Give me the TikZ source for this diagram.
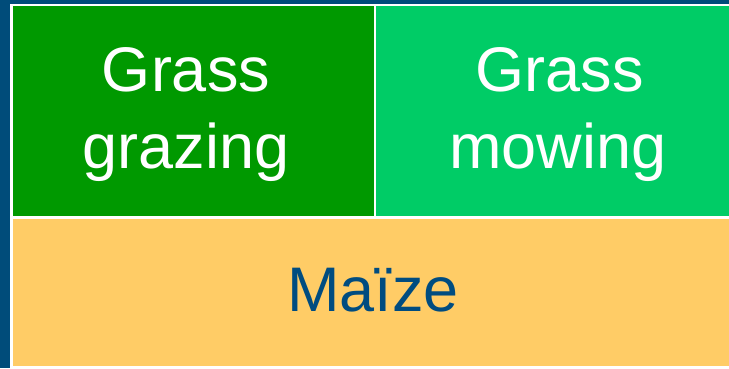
\documentclass[tikz,border=0pt]{standalone}
\usepackage{fontspec}
\setmainfont{Liberation Sans}
\definecolor{bgblue}{HTML}{004C7A}
\definecolor{dkgreen}{HTML}{009900}
\definecolor{ltgreen}{HTML}{00CC66}
\definecolor{maize}{HTML}{FFCC66}
\definecolor{txtblue}{HTML}{004C80}
\begin{document}
\begin{tikzpicture}[x=1pt,y=-1pt,
  cell/.style={draw=white,line width=2.8pt},
  lbl/.style={anchor=base,inner sep=0pt,font=\fontsize{63}{75}\selectfont}]
\useasboundingbox (0,0) rectangle (729,368);
\fill[bgblue] (0,0) rectangle (729,368);
\path[cell,fill=dkgreen] (11.5,5) rectangle (375,217.5);
\path[cell,fill=ltgreen] (375,5) rectangle (745,217.5);
\path[cell,fill=maize] (11.5,217.5) rectangle (745,367);
\node[lbl,text=white] (g1) at (186,91) {Grass};
\node[lbl,text=white] (g2) at (186,168) {grazing};
\node[lbl,text=white] (m1) at (559.5,91) {Grass};
\node[lbl,text=white] (m2) at (558,168) {mowing};
\node[lbl,text=txtblue] (mz) at (373,311) {Maïze};
\end{tikzpicture}
\end{document}
